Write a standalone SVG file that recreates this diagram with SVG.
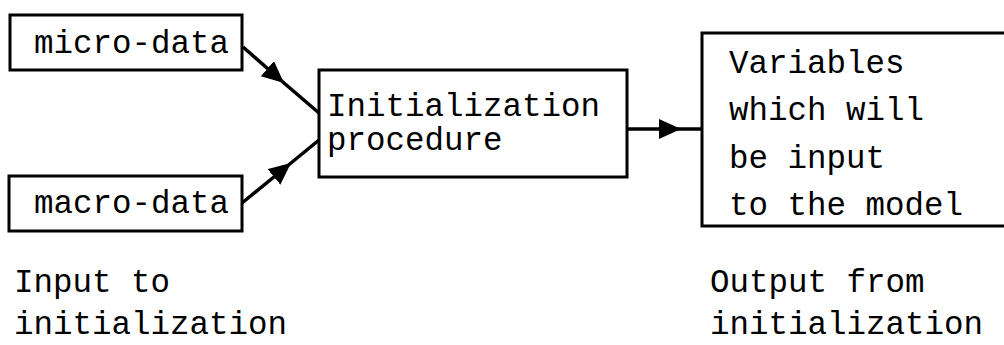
<svg xmlns="http://www.w3.org/2000/svg" width="1004" height="345" viewBox="0 0 1004 345">
<style>
.box{fill:none;stroke:#000;stroke-width:3}
.t{font-family:"Liberation Mono","Courier New",monospace;font-size:32.5px;fill:#000}
.c{fill:none;stroke:#000;stroke-width:3.5}
</style>
<defs>
<marker id="ah" markerUnits="userSpaceOnUse" markerWidth="24" markerHeight="22" refX="22" refY="10" orient="auto">
<path d="M0,0 L22,10 L0,20 z" fill="#000"/>
</marker>
</defs>
<rect width="1004" height="345" fill="#fff"/>
<g id="micro">
<rect class="box" x="10" y="15" width="232" height="55"/>
<text class="t" x="34" y="53">micro-data</text>
</g>
<g id="macro">
<rect class="box" x="9" y="176" width="233" height="55"/>
<text class="t" x="34" y="213">macro-data</text>
</g>
<g id="init">
<rect class="box" x="319" y="70" width="308" height="107"/>
<text class="t" x="327" y="116">Initialization</text>
<text class="t" x="327" y="150">procedure</text>
</g>
<g id="vars">
<path class="box" d="M1010,33 L702,33 L702,226 L1010,226"/>
<text class="t" x="729" y="73">Variables</text>
<text class="t" x="729" y="120">which will</text>
<text class="t" x="729" y="168">be input</text>
<text class="t" x="729" y="215">to the model</text>
</g>
<g id="labels">
<text class="t" x="14" y="292">Input to</text>
<text class="t" x="14" y="334">initialization</text>
<text class="t" x="710" y="292">Output from</text>
<text class="t" x="710" y="334">initialization</text>
</g>
<g id="connectors">
<polyline class="c" points="243,47 284,83 319,113" marker-mid="url(#ah)"/>
<polyline class="c" points="242,203 291,163 319,140" marker-mid="url(#ah)"/>
<polyline class="c" points="627,129 681,129 702,129" marker-mid="url(#ah)"/>
</g>
</svg>
